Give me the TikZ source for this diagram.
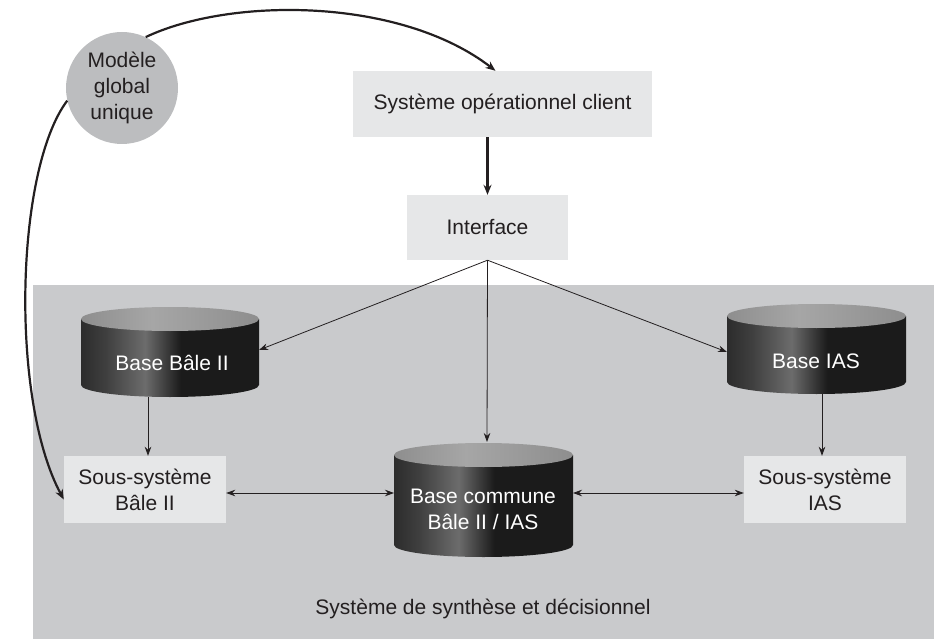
\documentclass[tikz,border=0pt]{standalone}
\usepackage{fontspec}
\setmainfont{Liberation Sans}
\usetikzlibrary{arrows.meta}
\definecolor{bggray}{HTML}{C9CACC}
\definecolor{boxgray}{HTML}{E6E7E8}
\definecolor{circgray}{HTML}{BCBDBF}
\definecolor{ink}{HTML}{231F20}
\definecolor{cdark}{HTML}{1B1B1B}
\definecolor{cmid}{HTML}{2C2C2C}
\definecolor{chi}{HTML}{6C6C6C}
\definecolor{ctopa}{HTML}{8E8E8E}
\definecolor{ctopb}{HTML}{A6A6A6}
\pgfdeclarehorizontalshading{cylbody}{100bp}{color(0bp)=(cmid); color(25bp)=(cmid); color(32bp)=(cmid!70!chi); color(43bp)=(chi); color(53bp)=(cdark); color(100bp)=(cdark)}
\pgfdeclarehorizontalshading{cyltop}{100bp}{color(0bp)=(ctopa); color(25bp)=(ctopa); color(45bp)=(ctopb); color(75bp)=(ctopa); color(100bp)=(ctopa)}
\newcommand\cylshape[4]{% x1 x2 ytop ybottom (pixel coords, y down)
  \pgfmathsetmacro\cxc{(#1+#2)/2}
  \pgfmathsetmacro\crx{(#2-#1)/2}
  \pgfmathsetmacro\cka{\cxc-0.552*\crx}
  \pgfmathsetmacro\ckb{\cxc+0.552*\crx}
  \pgfmathsetmacro\cyb{#4+12}
  \pgfmathsetmacro\cyk{#4+6.62}
  \shade[shading=cylbody] (#1,#3) -- (#1,#4) .. controls (#1,\cyk) and (\cka,\cyb) .. (\cxc,\cyb)
     .. controls (\ckb,\cyb) and (#2,\cyk) .. (#2,#4) -- (#2,#3) -- cycle;
  \shade[shading=cyltop] (\cxc,#3) ellipse [x radius=\crx, y radius=12];
}
\begin{document}
\begin{tikzpicture}[x=1pt,y=-1pt,
  every node/.style={font=\fontsize{21}{26}\selectfont, text=ink, align=center},
  lbox/.style={fill=boxgray, inner sep=0pt},
  cyltext/.style={text=white},
  arr/.style={draw=ink, line width=0.8pt, -{Stealth[length=9pt,width=6.5pt]}},
  darr/.style={draw=ink, line width=0.8pt, {Stealth[length=9pt,width=6.5pt]}-{Stealth[length=9pt,width=6.5pt]}},
  thick arr/.style={draw=ink, line width=2.2pt, -{Stealth[length=10pt,width=8pt]}}]
\useasboundingbox (0,0) rectangle (934,639);
% background area
\fill[bggray] (33,285) rectangle (934,639);
\node (synth) at (483,609) {Système de synthèse et décisionnel};

% top boxes
\node[circle, fill=circgray, minimum size=112pt, inner sep=0pt] (circ) at (122,88) {Modèle\\global\\unique};
\node[lbox, minimum width=299pt, minimum height=66pt] (sop) at (502.5,104) {Système opérationnel client};
\node[lbox, minimum width=161pt, minimum height=65pt] (intf) at (487.5,227.5) {Interface};

% cylinders
\cylshape{81}{259}{319}{385}
\cylshape{727}{906}{316}{382}
\cylshape{394}{573}{455}{545}
\node[cyltext] (bale) at (172,363) {Base Bâle II};
\node[cyltext] (ias) at (816,361) {Base IAS};
\node[cyltext] (com) at (483,509) {Base commune\\Bâle II / IAS};
\coordinate (baleE) at (259,350);
\coordinate (baleB) at (148,397);
\coordinate (iasW) at (727,352);
\coordinate (iasB) at (822,394);
\coordinate (comN) at (487,442);
\coordinate (comW) at (394,493);
\coordinate (comE) at (573,493);

% sub-system boxes
\node[lbox, minimum width=162pt, minimum height=67pt] (ssb) at (145,489.5) {Sous-système\\Bâle II};
\node[lbox, minimum width=162pt, minimum height=67pt] (ssi) at (825,489.5) {Sous-système\\IAS};

% connectors
\draw[thick arr] (circ.65) .. controls (230,-3) and (400,-3) .. ([xshift=-7pt]sop.north);
\draw[thick arr] (circ.193) .. controls (15,170) and (10,400) .. ([yshift=-10pt]ssb.west);
\draw[thick arr] (intf.north |- sop.south) -- (intf.north);
\draw[arr] (intf.south) -- (baleE);
\draw[arr] (intf.south) -- (iasW);
\draw[arr] (intf.south) -- (comN);
\draw[arr] (baleB) -- (baleB |- ssb.north);
\draw[arr] (iasB) -- (iasB |- ssi.north);
\draw[darr] (ssb.east |- comW) -- (comW);
\draw[darr] (comE) -- (ssi.west |- comE);
\end{tikzpicture}
\end{document}
